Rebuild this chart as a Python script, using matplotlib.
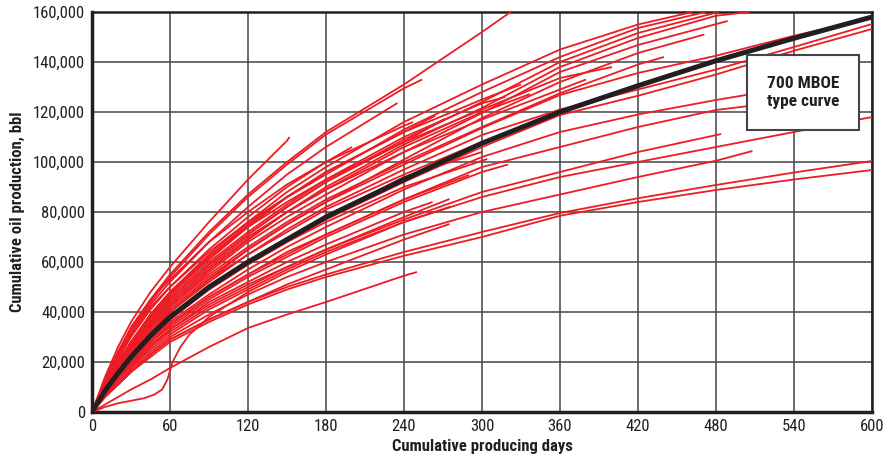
import matplotlib
matplotlib.use("Agg")
import matplotlib.pyplot as plt
from matplotlib.patches import Rectangle
from matplotlib.ticker import FuncFormatter

plt.rcParams['font.family'] = ['Liberation Sans Narrow', 'DejaVu Sans Condensed', 'Roboto Condensed', 'DejaVu Sans']

# days used by most wells (values in thousand bbl)
grid_days = [0, 10, 20, 30, 45, 60, 90, 120, 150, 180, 240, 300, 360, 420, 480, 540, 600]

# type curve
type_vals = [0, 8.5, 15.5, 22, 30.5, 38, 50, 60, 69, 78, 93, 107.5, 120, 130.5, 140.5, 149.5, 158]

# each well: values on grid_days (as far as they go) + last point (day, value)
well_vals = [
    [0, 14, 26, 36, 48, 58, 76, 93, 108.5],
    [0, 13, 24, 33, 45, 55, 72, 87, 100, 112, 131, 152],
    [0, 12, 23, 32, 44, 54, 71, 86, 99, 111, 129.5],
    [0, 12, 22, 31, 43, 52, 68, 82, 95, 106],
    [0, 11, 21, 30, 41, 50, 65, 78, 90, 100, 114.5],
    [0, 10, 19, 27, 38, 47, 62, 75, 86, 96, 112],
    [0, 10, 18, 26, 36, 45, 59, 71, 82, 92, 108],
    [0, 9, 17, 25, 35, 43, 57, 69, 80, 89, 106, 120],
    [0, 11, 20, 28, 39, 48, 63, 76, 88, 98, 116, 131, 145, 155],
    [0, 10, 19, 27, 38, 47, 61, 74, 86, 95, 113, 128, 142, 153.6],
    [0, 10, 18, 26, 36, 45, 59, 71, 82, 92, 109, 124, 140, 151.6],
    [0, 9, 17, 25, 35, 43, 57, 69, 80, 90, 107, 121.6, 138, 149.6, 158.5],
    [0, 9, 17, 24, 34, 42, 56, 68, 78, 87, 104, 119.6, 136, 146.8],
    [0, 9, 16, 23, 32, 40, 53, 65, 75, 84, 101, 117.6, 132, 143.6],
    [0, 9, 17, 24, 33, 41, 54, 65, 75, 84, 99, 113.6, 126.8, 135.6, 142.5, 150.5],
    [0, 9, 16, 23, 32, 40, 53, 63, 73, 82, 97, 110.8, 121, 129, 137, 146],
    [0, 8, 15, 21, 30, 37, 49, 59, 68, 77, 92, 106, 118.8, 126.5, 135, 144.5],
    [0, 8, 15, 21, 29, 36, 47, 57, 66, 74, 89, 102, 112, 119, 124.8],
    [0, 8, 14, 20, 28, 35, 46, 55, 63, 71, 85, 98, 106, 114, 120.8],
    [0, 7, 13, 19, 26, 33, 43, 51, 58, 65, 77, 88, 96, 104],
    [0, 7, 13, 18, 25, 31, 41, 49, 57, 64, 76, 86, 94, 100, 106, 112],
    [0, 6, 12, 17, 24, 30, 39, 47, 54, 60, 71, 80, 87, 94, 100.5],
    [0, 6, 11, 16, 23, 29, 37, 44, 50, 55, 64, 72, 79.6, 85.5, 90.8, 95.8],
    [0, 6, 11, 16, 22, 28, 36, 43, 49, 54, 62.5, 70, 78.5, 84, 88.8, 93],
    [0, 8, 15, 21, 30, 37, 49, 59, 68, 76, 90, 100.5],
    [0, 7, 14, 20, 28, 35, 46, 55, 64, 71, 85],
    [0, 7, 13, 18, 26, 32, 42, 50, 58, 65, 78],
    [0, 6, 11, 16, 23, 29, 37, 44, 51, 57, 69],
    [0, 3, 6, 9, 13, 17.6, 26, 33.6, 39, 44, 54.5],
    [0, 11, 20, 28, 39, 47, 62, 75, 86, 96, 112, 125],
    [0, 10, 19, 27, 37, 46, 60, 72, 83, 93, 110, 123.5],
    [0, 10, 18, 26, 36, 44, 58, 70, 80, 89, 104, 117, 129],
    [0, 9, 17, 25, 34, 42, 55, 66, 76, 85, 100, 114, 127.5, 139],
    [0, 9, 16, 23, 32, 40, 52, 63, 72, 81, 95, 108],
    [0, 8, 15, 22, 31, 38, 50, 60, 69, 78, 94],
    [0, 12, 22, 31, 42, 50, 64, 76, 86],
    [0, 13, 24, 34, 45, 53, 68, 80, 91, 100],
    [0, 8, 14, 20, 28, 34, 45, 54, 62, 70, 84, 96],
    [0, 7, 13, 19, 27, 33, 44, 52, 60, 67, 80],
    [0, 10, 19, 28, 39, 48, 62, 74, 84, 93, 108, 121, 133.6],
]
well_end = [
    (152, 110), (322, 160), (254, 133), (235, 123.6), (247, 116), (264, 118.5),
    (271, 117.2), (337, 127.2), (462, 160), (472, 160), (482, 160), (506, 160),
    (489, 156.4), (471, 151), (600, 157.6), (600, 155.2), (600, 153.2), (540, 130),
    (530, 124), (484, 111.2), (600, 118), (508, 104.4), (600, 100.4), (600, 96.8),
    (304, 101.2), (290, 94.8), (275, 85.2), (275, 75.2), (250, 56), (330, 131),
    (318, 126), (380, 133), (440, 142), (310, 110), (300, 104), (170, 92),
    (200, 106), (320, 99), (262, 84), (400, 138),
]

# well with delayed start (S-shape)
s_days = [0, 10, 20, 30, 40, 48, 54, 58, 62, 68, 75, 90, 120, 150, 180, 240, 275]
s_vals = [0, 2, 3.5, 4.5, 5.5, 7, 9, 13, 20, 26, 31, 38, 48, 56, 63, 76, 82]

fig = plt.figure(figsize=(8.95, 4.62), dpi=100)
ax = fig.add_axes([92 / 895, 50 / 462, 780 / 895, 400 / 462])

red = '#ed1c24'
for vals, (d_end, v_end) in zip(well_vals, well_end):
    xs = grid_days[:len(vals)] + [d_end]
    ys = [v * 1000 for v in vals] + [v_end * 1000]
    ax.plot(xs, ys, color=red, lw=1.3, zorder=3, solid_capstyle='butt')
ax.plot(s_days, [v * 1000 for v in s_vals], color=red, lw=1.3, zorder=3)

ax.plot(grid_days, [v * 1000 for v in type_vals], color='#231f20', lw=3.6, zorder=4,
        solid_capstyle='butt')

# label box
ax.add_patch(Rectangle((504, 112800), 86, 30000, facecolor='white', edgecolor='#444444',
                       lw=1.5, zorder=5))
ax.text(547, 127800, '700 MBOE\ntype curve', ha='center', va='center', fontsize=12.5,
        fontweight='bold', color='#231f20', zorder=6, linespacing=1.25)

ax.set_xlim(0, 600)
ax.set_ylim(0, 160000)
ax.set_xticks(range(0, 601, 60))
ax.set_yticks(range(0, 160001, 20000))
ax.yaxis.set_major_formatter(FuncFormatter(lambda v, p: f'{int(v):,}'))
ax.tick_params(length=0, labelsize=12, colors='#231f20', pad=5)
ax.grid(True, color='#444444', lw=1.1, zorder=1)
for s in ax.spines.values():
    s.set_color('#231f20')
    s.set_linewidth(1.8)
ax.spines['left'].set_linewidth(2.5)
ax.spines['bottom'].set_linewidth(2.5)

ax.set_xlabel('Cumulative producing days', fontsize=12, fontweight='bold', color='#231f20',
              labelpad=4)
ax.set_ylabel('Cumulative oil production, bbl', fontsize=12, fontweight='bold',
              color='#231f20', labelpad=6)

fig.savefig('out.png', dpi=100)
